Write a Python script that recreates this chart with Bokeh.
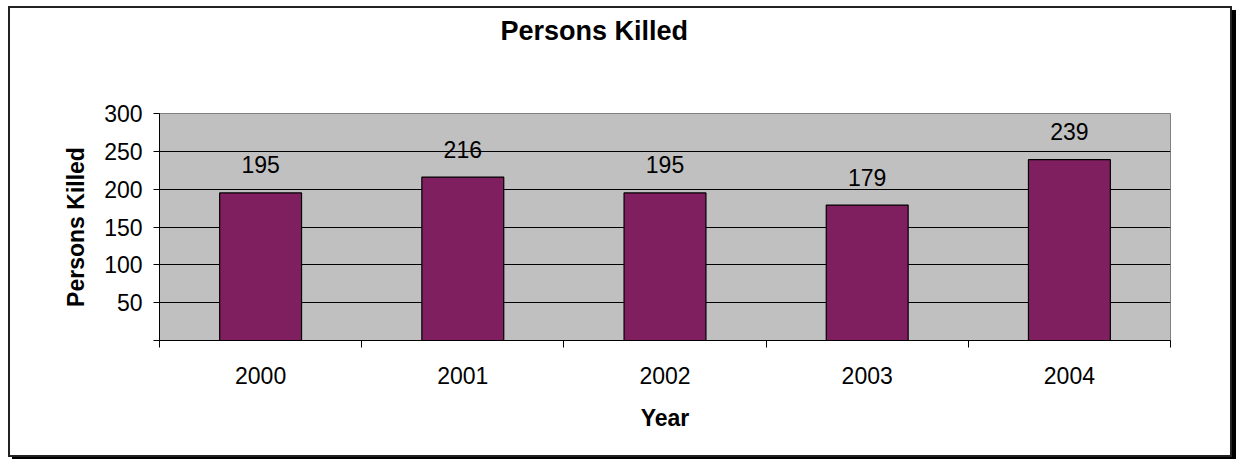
from bokeh.plotting import figure
from bokeh.models import ColumnDataSource, FixedTicker, Range1d, Title
from bokeh.core.properties import value
from bokeh.embed import file_html
from bokeh.resources import INLINE

years = ["2000", "2001", "2002", "2003", "2004"]
killed = [195, 216, 195, 179, 239]
y_ticks = [0, 50, 100, 150, 200, 250, 300]
title_text = "Persons Killed"

FONT = "Liberation Sans"
pos = [i + 0.5 for i in range(len(years))]
src = ColumnDataSource(dict(x=pos, top=killed, label=[str(v) for v in killed]))

p = figure(width=1224, height=451, output_backend="svg", toolbar_location=None, title=None,
           x_range=Range1d(0, len(years)), y_range=Range1d(0, 300),
           min_border_left=149, min_border_right=64, min_border_top=105, min_border_bottom=119)
p.styles = {"border": "2px solid #222", "box-shadow": "4px 4px 0 #000",
            "margin-left": "8px", "margin-top": "6px"}

p.background_fill_color = "#C0C0C0"
p.border_fill_color = "white"
p.outline_line_color = "#808080"
p.outline_line_width = 1

# spacer (nearest the plot area), then the real title above it
p.add_layout(Title(text=" ", text_font_size="10px", standoff=50), "above")
p.add_layout(Title(text=title_text, text_font=FONT, text_font_size="27px",
                   text_font_style="bold", text_color="black", align="left",
                   offset=341, standoff=10), "above")

p.vbar(x="x", top="top", width=0.405, bottom=0, source=src,
       fill_color="#801F60", line_color="black", line_width=1.2)
p.text(x="x", y="top", text="label", source=src, text_align="center",
       text_baseline="alphabetic", y_offset=-28, text_font=value(FONT),
       text_font_size="23px", text_color="black")

# grid
p.xgrid.visible = False
p.ygrid.ticker = FixedTicker(ticks=[t for t in y_ticks if 0 < t < 300])
p.ygrid.grid_line_color = "black"
p.ygrid.grid_line_width = 1

# y axis
ya = p.yaxis[0]
ya.ticker = FixedTicker(ticks=y_ticks)
ya.major_label_overrides = {0: ""}
ya.major_tick_out = 6
ya.major_tick_in = 0
ya.minor_tick_line_color = None
ya.axis_line_color = "black"
ya.major_label_text_font = FONT
ya.major_label_text_font_size = "23px"
ya.major_label_text_color = "black"
ya.major_label_standoff = 11
ya.axis_label = "Persons Killed"
ya.axis_label_text_font = FONT
ya.axis_label_text_font_size = "23px"
ya.axis_label_text_font_style = "bold"
ya.axis_label_text_color = "black"
ya.axis_label_standoff = 12

# x axis
xa = p.xaxis[0]
xa.ticker = FixedTicker(ticks=pos, minor_ticks=list(range(len(years) + 1)))
xa.major_label_overrides = {pv: y for pv, y in zip(pos, years)}
xa.major_tick_out = 0
xa.major_tick_in = 0
xa.minor_tick_out = 7
xa.minor_tick_in = 0
xa.minor_tick_line_color = "black"
xa.axis_line_color = "black"
xa.major_label_text_font = FONT
xa.major_label_text_font_size = "23px"
xa.major_label_text_color = "black"
xa.major_label_standoff = 19
xa.axis_label = "Year"
xa.axis_label_text_font = FONT
xa.axis_label_text_font_size = "23px"
xa.axis_label_text_font_style = "bold"
xa.axis_label_text_color = "black"
xa.axis_label_standoff = 18

open("out.html", "w").write(file_html(p, INLINE))
